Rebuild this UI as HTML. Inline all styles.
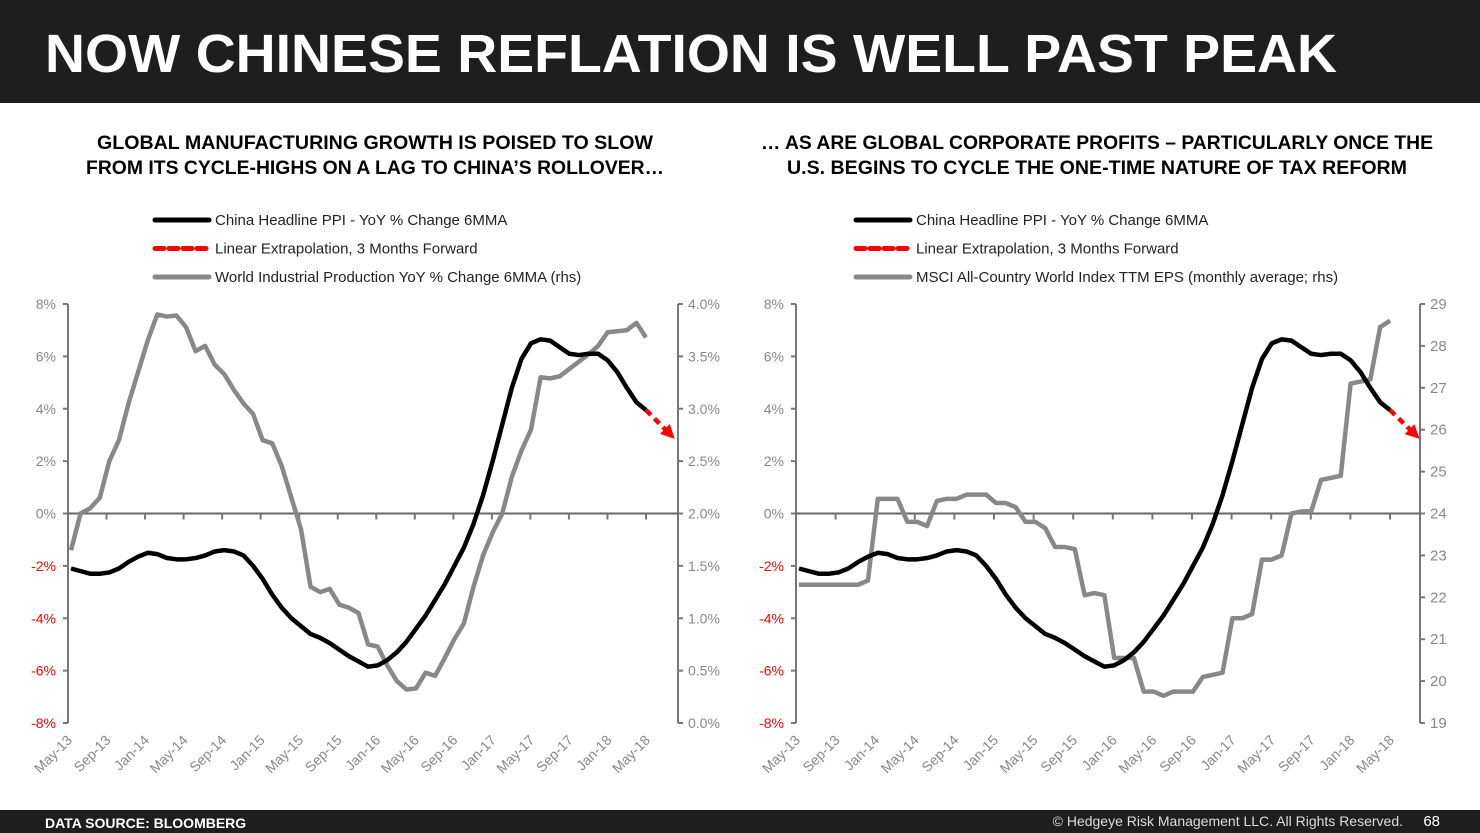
<!DOCTYPE html>
<html><head><meta charset="utf-8"><style>
html,body{margin:0;padding:0;background:#fff;}
svg{display:block;font-family:"Liberation Sans",sans-serif;}
</style></head><body>
<svg id="page" width="1480" height="833" viewBox="0 0 1480 833">
<rect x="0" y="0" width="1480" height="103" fill="#1e1e1e"/>
<text x="45" y="72" fill="#fff" font-size="54" font-weight="bold" textLength="1292" lengthAdjust="spacingAndGlyphs">NOW CHINESE REFLATION IS WELL PAST PEAK</text>
<g font-weight="bold" font-size="19" fill="#000" text-anchor="middle">
<text x="375" y="149" textLength="556" lengthAdjust="spacingAndGlyphs">GLOBAL MANUFACTURING GROWTH IS POISED TO SLOW</text>
<text x="375" y="174" textLength="578" lengthAdjust="spacingAndGlyphs">FROM ITS CYCLE-HIGHS ON A LAG TO CHINA’S ROLLOVER…</text>
<text x="1097" y="149" textLength="672" lengthAdjust="spacingAndGlyphs">… AS ARE GLOBAL CORPORATE PROFITS – PARTICULARLY ONCE THE</text>
<text x="1097" y="174" textLength="620" lengthAdjust="spacingAndGlyphs">U.S. BEGINS TO CYCLE THE ONE-TIME NATURE OF TAX REFORM</text>
</g>
<g id="left-chart"></g>
<g id="right-chart"></g>
<rect x="0" y="810" width="1480" height="23" fill="#1e1e1e"/>
<text x="45" y="828" fill="#fff" font-size="14" font-weight="bold">DATA SOURCE: BLOOMBERG</text>
<text x="1403" y="826" fill="#ddd" font-size="14" text-anchor="end">© Hedgeye Risk Management LLC. All Rights Reserved.</text>
<text x="1440" y="826" fill="#fff" font-size="15" text-anchor="end">68</text>
</svg>
<script>
const tickLabels = ["May-13","Sep-13","Jan-14","May-14","Sep-14","Jan-15","May-15","Sep-15","Jan-16","May-16","Sep-16","Jan-17","May-17","Sep-17","Jan-18","May-18"];
const leftTicks = [8,6,4,2,0,-2,-4,-6,-8];
const ipTicks = ["4.0%","3.5%","3.0%","2.5%","2.0%","1.5%","1.0%","0.5%","0.0%"];
const epsTicks = [29,28,27,26,25,24,23,22,21,20,19];
const chinaPPI = [-2.1,-2.2,-2.3,-2.3,-2.25,-2.1,-1.85,-1.65,-1.5,-1.55,-1.7,-1.75,-1.75,-1.7,-1.6,-1.45,-1.4,-1.45,-1.6,-2.0,-2.5,-3.1,-3.6,-4.0,-4.3,-4.6,-4.75,-4.95,-5.2,-5.45,-5.65,-5.85,-5.8,-5.6,-5.3,-4.9,-4.4,-3.9,-3.3,-2.7,-2.0,-1.3,-0.4,0.7,2.0,3.4,4.8,5.9,6.5,6.65,6.6,6.35,6.1,6.05,6.1,6.1,5.85,5.4,4.8,4.25,3.95];
const extrapolation = [3.95,2.85];
const worldIP = [1.65,2.0,2.05,2.15,2.5,2.7,3.05,3.35,3.65,3.9,3.88,3.89,3.78,3.55,3.6,3.42,3.33,3.18,3.05,2.95,2.7,2.67,2.45,2.15,1.85,1.3,1.25,1.28,1.13,1.1,1.05,0.75,0.73,0.55,0.4,0.32,0.33,0.48,0.45,0.62,0.8,0.95,1.3,1.6,1.82,2.0,2.35,2.6,2.8,3.3,3.29,3.31,3.38,3.45,3.52,3.6,3.73,3.74,3.75,3.82,3.68];
const msciEPS = [22.3,22.3,22.3,22.3,22.3,22.3,22.3,22.4,24.35,24.35,24.35,23.8,23.8,23.7,24.3,24.35,24.35,24.45,24.45,24.45,24.25,24.25,24.15,23.8,23.8,23.65,23.2,23.2,23.15,22.05,22.1,22.05,20.55,20.55,20.55,19.75,19.75,19.65,19.75,19.75,19.75,20.1,20.15,20.2,21.5,21.5,21.6,22.9,22.9,23.0,24.0,24.05,24.05,24.8,24.85,24.9,27.1,27.15,27.2,28.45,28.6];

const NS='http://www.w3.org/2000/svg';
function mk(parent,tag,attrs){const e=document.createElementNS(NS,tag);for(const k in attrs)e.setAttribute(k,attrs[k]);parent.appendChild(e);return e;}

function drawChart(g,cfg){
  const x0=cfg.x0,x1=cfg.x1,yTop=304,yBot=723;
  const xs=i=>x0+3+(cfg.xEnd-x0-3)*i/60;
  const yL=v=>yTop+(8-v)/16*(yBot-yTop);
  const yR=v=>yTop+(cfg.rMax-v)/(cfg.rMax-cfg.rMin)*(yBot-yTop);
  const lg=[["#000",null,"China Headline PPI - YoY % Change 6MMA"],["#f00","9 5","Linear Extrapolation, 3 Months Forward"],["#888",null,cfg.rLabel]];
  lg.forEach((l,k)=>{const y=220+k*28.5;
    const ln=mk(g,'line',{x1:cfg.lx,x2:cfg.lx+54,y1:y,y2:y,stroke:l[0],'stroke-width':5,'stroke-linecap':'round'});
    if(l[1])ln.setAttribute('stroke-dasharray',l[1]);
    
    
    const t=mk(g,'text',{x:cfg.lx+60,y:y+5,'font-size':15,fill:'#222'});t.textContent=l[2];
    
    
  });
  const ax=mk(g,'line',{x1:x0,x2:x0,y1:yTop,y2:yBot,stroke:'#777','stroke-width':2});
  
  
  const ax2=mk(g,'line',{x1:x1,x2:x1,y1:yTop,y2:yBot,stroke:'#777','stroke-width':2});
  
  
  const zl=mk(g,'line',{x1:x0,x2:x1,y1:yL(0),y2:yL(0),stroke:'#666','stroke-width':2});
  
  
  leftTicks.forEach(v=>{
    mk(g,'line',{x1:x0-5,x2:x0,y1:yL(v),y2:yL(v),stroke:'#777','stroke-width':2});
    const t=mk(g,'text',{x:x0-12,y:yL(v)+5,'font-size':14,'text-anchor':'end',fill:v<0?'#f00':'#888'});t.textContent=v+'%';
    
    
  });
  cfg.rTicks.forEach((lab,k)=>{const y=yTop+k*(yBot-yTop)/(cfg.rTicks.length-1);
    mk(g,'line',{x1:x1,x2:x1+5,y1:y,y2:y,stroke:'#777','stroke-width':2});
    const t=mk(g,'text',{x:x1+10,y:y+5,'font-size':cfg.rFont,fill:'#888'});t.textContent=lab;
    
    
  });
  tickLabels.forEach((lab,k)=>{const x=x0+(cfg.xEnd-x0)*k/15;
    mk(g,'line',{x1:x,x2:x,y1:yL(0),y2:yL(0)+6,stroke:'#777','stroke-width':2});
    const t=mk(g,'text',{x:x+5,y:yBot+18,'font-size':14,'text-anchor':'end',fill:'#888',transform:`rotate(-45 ${x+5} ${yBot+18})`});t.textContent=lab;
    
    
  });
  const gp=mk(g,'polyline',{points:cfg.rData.map((v,i)=>xs(i)+','+yR(v)).join(' '),fill:'none',stroke:'#888','stroke-width':4.5,'stroke-linejoin':'round'});
  
  
  const bp=mk(g,'polyline',{points:chinaPPI.map((v,i)=>xs(i)+','+yL(v)).join(' '),fill:'none',stroke:'#000','stroke-width':4.5,'stroke-linejoin':'round'});
  
  
  const n=chinaPPI.length-1;
  const ex1=xs(n),ey1=yL(extrapolation[0]),ex2=xs(n+3),ey2=yL(extrapolation[1]);
  const rl=mk(g,'line',{x1:ex1,y1:ey1,x2:ex2-(ex2-ex1)*0.3,y2:ey2-(ey2-ey1)*0.3,stroke:'#f00','stroke-width':4.5,'stroke-dasharray':'7 5'});
  
  
  const ang=Math.atan2(ey2-ey1,ex2-ex1),L=14,W=7;
  const bx=ex2-L*Math.cos(ang),by=ey2-L*Math.sin(ang);
  const ah=mk(g,'polygon',{points:`${ex2},${ey2} ${bx+W*Math.sin(ang)},${by-W*Math.cos(ang)} ${bx-W*Math.sin(ang)},${by+W*Math.cos(ang)}`,fill:'#f00'});
  
  
}
drawChart(document.getElementById('left-chart'),{x0:68,x1:678,xEnd:646,lx:155,rMin:0,rMax:4,rTicks:ipTicks,rFont:14,rData:worldIP,rLabel:"World Industrial Production YoY % Change 6MMA (rhs)"});
drawChart(document.getElementById('right-chart'),{x0:796,x1:1420,xEnd:1390,lx:856,rMin:19,rMax:29,rTicks:epsTicks.map(String),rFont:15,rData:msciEPS,rLabel:"MSCI All-Country World Index TTM EPS (monthly average; rhs)"});
</script>
</body></html>
